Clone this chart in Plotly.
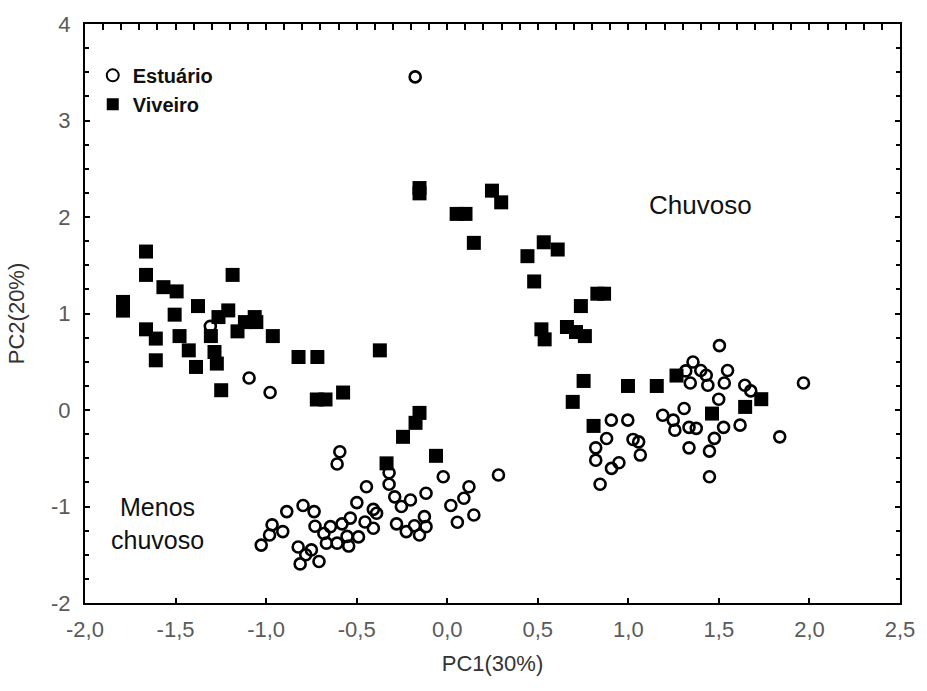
import plotly.graph_objects as go

# Estuário (open circles)
estuario_x = [-0.177, -1.308, -1.094, -0.978, -0.593, -0.608,
              -1.027, -0.967, -0.981, -0.908, -0.886, -0.796, -0.735, -0.823, -0.781, -0.812,
              -0.708, -0.750, -0.730, -0.681, -0.645, -0.667, -0.608, -0.581, -0.553, -0.544,
              -0.535, -0.490, -0.499, -0.446, -0.454, -0.408, -0.408, -0.390, -0.321, -0.321,
              -0.290, -0.253, -0.203, -0.117, -0.022, 0.283, 0.120, 0.092, 0.020, 0.147,
              0.056, -0.126, -0.117, -0.153, -0.181, -0.226, -0.280,
              0.906, 0.997, 0.880, 1.026, 1.057, 0.820, 0.820, 1.066, 0.948, 0.907, 0.844,
              1.503, 1.357, 1.317, 1.400, 1.342, 1.430, 1.439, 1.548, 1.530, 1.643, 1.676,
              1.967, 1.499, 1.308, 1.190, 1.248, 1.257, 1.335, 1.375, 1.526, 1.617, 1.475,
              1.448, 1.335, 1.836, 1.448]
estuario_y = [3.452, 0.867, 0.332, 0.181, -0.433, -0.560,
              -1.400, -1.190, -1.295, -1.260, -1.053, -0.990, -1.053, -1.420, -1.500, -1.595,
              -1.570, -1.450, -1.205, -1.280, -1.209, -1.380, -1.380, -1.180, -1.310, -1.410,
              -1.120, -1.315, -0.960, -0.795, -1.160, -1.030, -1.225, -1.070, -0.650, -0.770,
              -0.900, -1.000, -0.933, -0.863, -0.692, -0.674, -0.795, -0.915, -0.990, -1.088,
              -1.163, -1.105, -1.209, -1.295, -1.200, -1.260, -1.180,
              -0.105, -0.105, -0.295, -0.305, -0.330, -0.392, -0.520, -0.467, -0.547, -0.605, -0.770,
              0.667, 0.498, 0.405, 0.410, 0.280, 0.360, 0.256, 0.410, 0.280, 0.256, 0.198,
              0.280, 0.112, 0.015, -0.054, -0.105, -0.209, -0.180, -0.190, -0.180, -0.157, -0.294,
              -0.426, -0.392, -0.278, -0.692]

# Viveiro (filled squares)
viveiro_x = [-1.790, -1.790, -1.663, -1.663, -1.663, -1.609, -1.609, -1.567, -1.505, -1.494,
             -1.478, -1.427, -1.387, -1.376, -1.305, -1.285, -1.272, -1.263, -1.248, -1.209,
             -1.185, -1.158, -1.117, -1.063, -1.054, -0.963, -0.821, -0.717, -0.720, -0.672,
             -0.575, -0.372, -0.335, -0.244, -0.175, -0.153, -0.062, -0.153, -0.153, 0.052,
             0.101, 0.147, 0.247, 0.298, 0.443, 0.480, 0.533, 0.610, 0.520, 0.538,
             0.661, 0.711, 0.760, 0.738, 0.829, 0.866, 0.753, 0.693, 0.808, 0.998,
             1.157, 1.266, 1.462, 1.645, 1.734]
viveiro_y = [1.120, 1.030, 1.642, 1.400, 0.836, 0.740, 0.515, 1.273, 0.988, 1.229,
             0.766, 0.618, 0.446, 1.077, 0.766, 0.601, 0.481, 0.963, 0.205, 1.032,
             1.400, 0.815, 0.911, 0.963, 0.911, 0.766, 0.549, 0.549, 0.109, 0.109,
             0.181, 0.618, -0.553, -0.278, -0.133, -0.030, -0.475, 2.300, 2.245, 2.032,
             2.032, 1.732, 2.273, 2.152, 1.594, 1.332, 1.738, 1.663, 0.836, 0.732,
             0.860, 0.808, 0.766, 1.077, 1.205, 1.205, 0.301, 0.084, -0.165, 0.249,
             0.249, 0.357, -0.037, 0.032, 0.112]

x_tick_vals = [-2.0, -1.5, -1.0, -0.5, 0.0, 0.5, 1.0, 1.5, 2.0, 2.5]
x_tick_text = ["-2,0", "-1,5", "-1,0", "-0,5", "0,0", "0,5", "1,0", "1,5", "2,0", "2,5"]
y_tick_vals = [-2, -1, 0, 1, 2, 3, 4]
y_tick_text = ["-2", "-1", "0", "1", "2", "3", "4"]

FONT = "Liberation Sans, Arial, sans-serif"
TICKC = "#5a5a5a"

fig = go.Figure()
fig.add_trace(go.Scatter(
    x=estuario_x, y=estuario_y, mode="markers", name="Estuário",
    marker=dict(symbol="circle-open", size=11, color="black", line=dict(width=2.6, color="black")),
))
fig.add_trace(go.Scatter(
    x=viveiro_x, y=viveiro_y, mode="markers", name="Viveiro",
    marker=dict(symbol="square", size=14, color="black", line=dict(width=0)),
))
# invisible trace to activate the top tick axis
fig.add_trace(go.Scatter(x=[0], y=[0], xaxis="x2", mode="markers", marker=dict(opacity=0),
                         showlegend=False, hoverinfo="skip"))

fig.update_layout(
    width=927, height=691,
    margin=dict(l=85, r=18, t=23, b=88),
    paper_bgcolor="white", plot_bgcolor="white",
    showlegend=True,
    legend=dict(x=0.0095, y=0.945, xanchor="left", yanchor="top",
                bgcolor="rgba(0,0,0,0)", font=dict(family=FONT, size=20, color="#111111", weight="bold"),
                itemsizing="constant", tracegroupgap=0),
    xaxis=dict(range=[-2, 2.5], tickvals=x_tick_vals, ticktext=x_tick_text,
               showline=True, linecolor="black", linewidth=2, mirror=True,
               ticks="inside", ticklen=5, tickwidth=2, tickcolor="black",
               showgrid=False, zeroline=False,
               tickfont=dict(family=FONT, size=22, color=TICKC), ticklabelstandoff=6,
               title=dict(text="PC1(30%)", font=dict(family=FONT, size=22, color="#333333"), standoff=14)),
    xaxis2=dict(range=[-2, 2.5], overlaying="x", side="top", anchor="y", dtick=0.1, tick0=0,
                ticks="inside", ticklen=6, tickwidth=2, tickcolor="black",
                showticklabels=False, showgrid=False, zeroline=False, showline=False),
    yaxis=dict(range=[-2, 4], tickvals=y_tick_vals, ticktext=y_tick_text,
               showline=True, linecolor="black", linewidth=2, mirror="ticks",
               ticks="inside", ticklen=5, tickwidth=2, tickcolor="black",
               minor=dict(dtick=0.25, ticks="inside", ticklen=4, tickcolor="black", tickwidth=1.5),
               showgrid=False, zeroline=False,
               tickfont=dict(family=FONT, size=22, color=TICKC), ticklabelstandoff=8,
               title=dict(text="PC2(20%)", font=dict(family=FONT, size=22, color="#333333"), standoff=20)),
    annotations=[
        dict(x=1.40, y=2.12, xref="x", yref="y", text="Chuvoso", showarrow=False,
             font=dict(family=FONT, size=26, color="#111111")),
        dict(x=-1.601, y=-1.18, xref="x", yref="y", text="Menos<br>chuvoso", showarrow=False,
             xanchor="center", align="center", font=dict(family=FONT, size=25, color="#111111")),
    ],
)

fig.write_html("out.html")
